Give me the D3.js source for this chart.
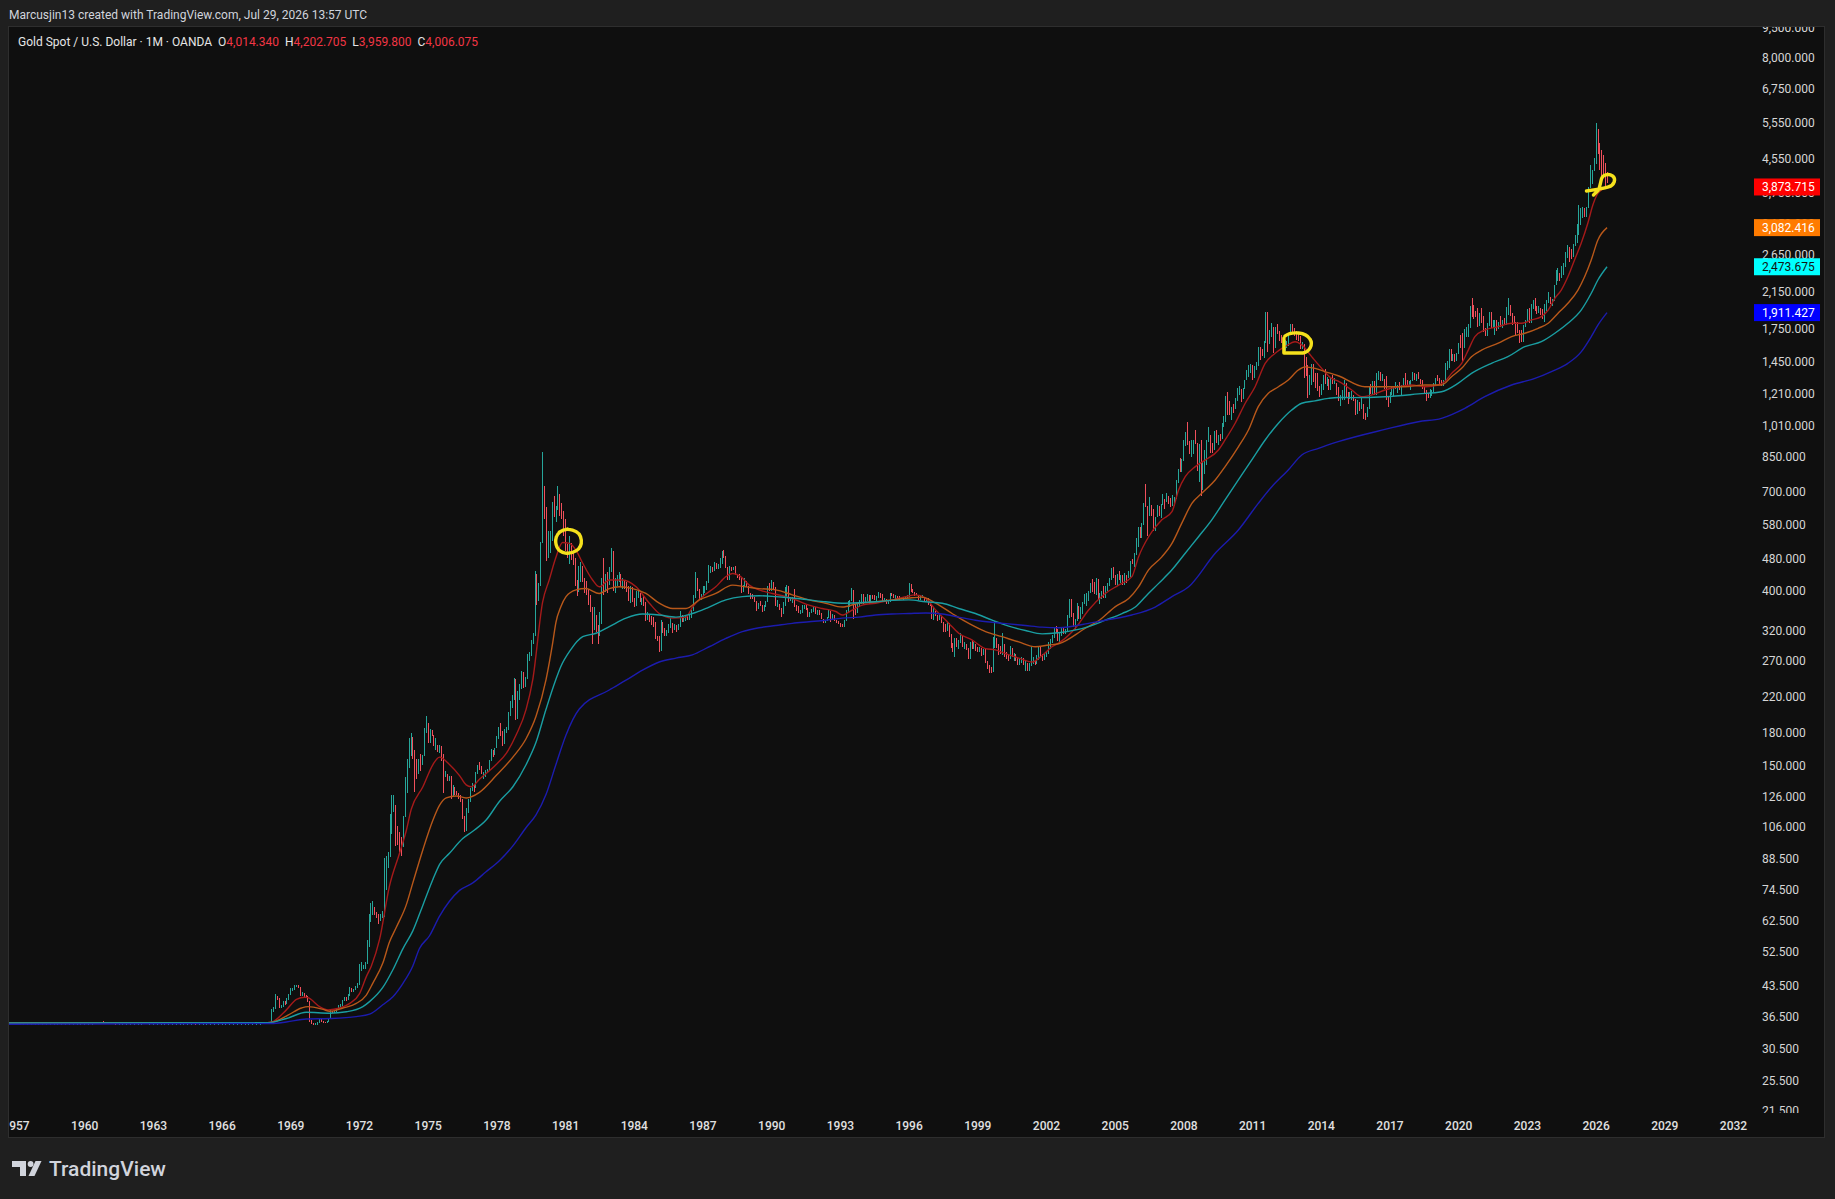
<!DOCTYPE html>
<html>
<head>
<meta charset="utf-8">
<script src="https://cdn.jsdelivr.net/npm/d3@7"></script>
<style>
  body { margin: 0; background: #1f1f1f; }
  svg { display: block; font-family: Roboto, "Liberation Sans", sans-serif; }
</style>
</head>
<body>
<svg id="chart" width="1835" height="1199"></svg>
<script>
// ---- data (monthly) ----

// 1956-1967 the market sat flat around $35, candles are just ticks
var flatStart = 1956;
var flatClose = [
  35.1,35.1,35.1,35.1,35.1,35.1,35.1,35.1,35.1,35.1,35.1,35.2,
  35.2,35.2,35.1,35.1,35.1,35.1,35.1,35.1,35.1,35.1,35.1,35.1,
  35.1,35.1,35.1,35.1,35.1,35.1,35.1,35.1,35.1,35.1,35.1,35.1,
  35.1,35.1,35.1,35.1,35.1,35.1,35.1,35.1,35.1,35.1,35.1,35.1,
  35.1,35.1,35.1,35.1,35.1,35.1,35.2,35.3,35.5,36.5,35.7,35.3,
  35.5,35.3,35.2,35.2,35.1,35.1,35.1,35.1,35.1,35.1,35.1,35.1,
  35.1,35.1,35.1,35.1,35.1,35.1,35.1,35.1,35.2,35.1,35.1,35.1,
  35.1,35.1,35.1,35.1,35.1,35.1,35.1,35.1,35.1,35.1,35.1,35.1,
  35.1,35.1,35.1,35.1,35.1,35.1,35.1,35.1,35.1,35.2,35.1,35.1,
  35.1,35.1,35.1,35.1,35.1,35.1,35.1,35.1,35.1,35.1,35.1,35.1,
  35.1,35.1,35.1,35.1,35.1,35.1,35.1,35.1,35.1,35.1,35.1,35.1,
  35.1,35.1,35.1,35.1,35.1,35.1,35.1,35.1,35.1,35.1,35.2,35.2
];

// from 1968 on: close / high / low per month, one block per era
var close1968 = [
  35.2,35.2,37.5,38.0,41.0,40.5,38.5,38.5,39.5,39.2,40.0,41.1,
  42.5,42.5,43.3,43.3,43.0,41.0,41.5,41.0,40.9,39.8,35.6,35.2,
  34.9,35.0,35.3,35.8,35.6,35.4,35.3,35.4,36.2,37.5,37.4,37.4,
  38.0,38.7,38.9,39.9,40.6,40.1,41.0,42.7,42.0,42.5,42.9,43.6,
  48.0,48.3,48.3,49.0,54.6,62.9,65.7,67.0,65.5,64.9,62.9,63.9,
  65.1,74.2,84.5,90.5,102.0,120.0,120.0,106.8,103.0,100.0,94.8,112.3,
  129.2,150.2,168.4,172.2,163.3,154.1,143.0,154.6,151.8,158.8,181.7,186.5,
  175.8,181.8,178.2,167.0,167.0,166.3,166.7,159.8,141.3,142.9,138.2,140.3,
  128.2,132.3,128.8,128.4,125.8,123.8,112.5,104.0,116.0,123.2,130.3,134.5,
  132.3,142.8,148.9,147.8,143.0,143.0,144.1,146.0,154.1,161.5,160.5,164.9,
  175.8,182.3,181.6,170.1,183.1,183.1,200.3,208.1,217.1,242.6,194.2,226.0,
  233.7,251.3,240.1,245.3,274.6,277.5,296.5,315.1,397.3,382.0,415.7,524.0
];
var high1968 = [
  35.3,35.3,38.0,38.5,41.5,41.0,40.5,39.0,39.8,39.8,40.5,41.5,
  42.8,42.9,43.6,43.7,43.5,43.0,42.0,41.6,41.2,41.0,39.8,35.8,
  35.3,35.2,35.5,36.0,36.0,35.7,35.5,35.6,36.3,37.8,37.7,37.6,
  38.3,38.9,39.1,40.0,40.8,40.8,41.4,43.0,42.8,42.7,43.3,44.0,
  49.0,49.5,48.9,49.6,56.0,65.0,69.0,70.0,67.5,65.8,64.8,64.9,
  66.0,89.0,90.0,92.0,114.0,127.0,127.0,120.0,105.0,100.5,100.0,113.0,
  140.0,155.0,175.0,179.5,176.0,163.0,155.0,155.0,160.0,159.0,185.0,197.5,
  190.0,184.0,183.0,178.0,175.0,168.0,168.0,166.0,153.0,145.0,143.0,140.8,
  141.0,134.0,133.0,130.0,128.5,127.0,123.0,112.0,118.0,124.0,132.0,136.0,
  135.0,144.0,150.0,153.0,149.0,144.0,146.0,146.5,154.5,164.0,163.0,165.5,
  177.0,185.5,190.0,181.0,183.5,186.0,202.0,215.0,222.0,245.0,243.0,228.0,
  237.0,255.0,253.0,246.0,280.0,284.0,303.0,316.0,447.0,440.0,417.0,525.0
];
var low1968 = [
  35.1,35.1,35.2,37.5,38.0,40.0,38.3,38.2,38.5,39.0,39.3,40.0,
  41.2,42.2,42.5,43.0,42.8,41.0,41.0,40.8,40.6,39.6,35.4,35.0,
  34.8,34.8,34.9,35.3,35.4,35.2,35.2,35.2,35.4,36.2,37.2,37.2,
  37.4,37.9,38.6,38.8,39.9,39.9,40.0,41.0,41.8,42.0,42.4,42.8,
  43.6,47.2,47.8,47.8,49.0,54.0,62.0,64.5,64.5,63.5,61.5,62.5,
  63.5,64.0,78.0,84.0,89.5,102.0,115.0,95.0,96.0,92.0,90.0,95.0,
  112.0,128.0,148.0,158.0,155.0,128.8,139.0,143.0,145.0,150.0,158.0,180.0,
  170.0,170.0,177.0,167.0,163.0,162.0,161.0,154.0,128.0,140.0,137.0,137.0,
  124.0,126.0,127.0,127.0,124.0,122.0,111.0,103.0,103.5,114.5,122.0,130.0,
  129.0,132.0,142.5,146.0,142.5,139.0,140.0,144.0,145.5,154.0,157.0,159.0,
  165.0,174.0,177.0,167.0,169.0,180.0,183.0,198.0,207.0,216.0,193.0,195.0,
  216.0,230.0,232.0,233.0,244.0,270.0,277.0,298.0,310.0,370.0,378.0,412.0
];

var close1980 = [
  653,637,494.5,518,535.5,653.5,614.3,631.3,666.8,629,619.8,589.8,
  506,489,514,483,480,422,407,426,429,428,414,400,
  384,362,320,350,325,315,342,411,397,423,414,448,
  481,408,414,429,437,416,422,414,405,382,405,382,
  370,395,395,381,384,373,342,348,343,334,329,309,
  306,287,326,321,317,318,327,334,325,325,324,327,
  350,338,344,345,343,345,357,384,424,402,384,391,
  405,406,420,451,451,448,463,451,460,466,492,484,
  458,426,457,449,455,437,436,431,397,412,420,410,
  394,387,383,377,362,373,368,359,366,375,409,401
];
var high1980 = [
  873,720,640,560,560,660,680,645,720,690,655,628,
  600,520,545,522,495,480,425,460,470,460,430,422,
  405,390,365,365,350,330,355,430,481,440,445,458,
  510,500,430,438,445,440,430,425,420,410,410,408,
  385,400,405,395,385,390,375,355,350,347,346,335,
  311,310,340,336,325,320,332,343,330,332,330,332,
  358,350,348,350,348,350,360,390,444,430,405,392,
  410,410,422,462,461,457,470,467,465,481,499,502,
  486,450,459,456,457,460,437,440,432,414,430,422,
  411,392,393,386,377,373,377,370,369,378,412,419
];
var low1980 = [
  560,600,474,480,495,530,604,590,630,610,600,545,
  500,480,465,475,462,412,389,397,420,420,395,390,
  370,355,297,320,318,297,310,332,390,400,395,420,
  445,400,395,410,420,408,405,405,398,378,374,375,
  365,368,385,375,370,368,337,340,336,330,326,305,
  302,284,285,315,310,311,315,325,315,320,318,320,
  328,335,335,338,339,340,343,357,385,400,383,380,
  388,396,402,418,443,445,447,451,451,455,464,480,
  455,425,430,447,450,436,431,425,395,397,412,408,
  392,382,382,375,357,361,367,356,358,366,375,400
];

var close1990 = [
  415,407,368,368,363,352,372,388,408,380,385,386,
  367,362,355,358,367,368,362,347,354,357,366,353,
  354,353,341,336,337,343,357,340,349,339,334,333,
  330,328,337,354,377,378,401,372,355,369,372,391,
  378,381,390,376,388,385,384,385,395,389,383,383,
  375,376,392,390,385,387,383,382,383,383,387,387,
  405,400,396,392,391,382,385,386,379,379,371,369,
  345,358,348,340,345,334,326,325,332,311,296,290,
  303,297,301,308,293,296,288,273,294,292,294,288,
  287,288,279,286,268,261,256,254,299,299,292,290
];
var high1990 = [
  424,420,408,380,372,362,375,409,413,412,386,387,
  403,369,367,360,370,370,370,364,356,362,366,366,
  359,359,354,342,339,346,361,358,352,346,340,337,
  334,332,340,359,378,380,406,398,372,372,379,393,
  392,387,392,385,390,391,391,389,397,396,393,384,
  381,379,394,396,392,390,389,388,386,386,388,390,
  417,415,403,398,395,391,388,390,387,384,384,373,
  368,364,357,349,349,348,336,331,336,333,314,298,
  307,306,303,315,311,300,297,290,300,302,300,297,
  292,292,290,288,290,269,263,260,308,338,306,296
];
var low1990 = [
  399,405,367,365,360,345,352,368,386,375,378,374,
  366,358,354,351,353,361,360,345,345,354,356,352,
  349,350,341,334,334,338,345,336,340,338,333,331,
  327,326,326,337,353,366,380,341,349,354,365,372,
  372,375,377,371,376,382,380,375,385,385,378,376,
  372,372,375,389,384,382,382,380,381,380,381,385,
  387,398,394,389,390,380,380,384,378,377,369,367,
  341,339,347,337,339,333,317,317,319,309,290,283,
  276,291,288,299,291,288,287,272,275,288,288,285,
  284,284,277,279,267,258,252,252,253,290,290,279
];

var close2000 = [
  283,293,277,276,273,288,277,278,274,264,270,274,
  266,267,258,263,266,270,266,274,293,279,275,278,
  282,297,302,308,326,318,304,312,324,317,318,347,
  368,347,336,339,364,346,355,375,385,386,398,416,
  400,397,427,387,393,395,391,407,415,428,452,437,
  422,434,428,435,417,436,429,433,473,470,495,513,
  568,556,582,654,643,614,632,624,599,604,646,632,
  650,665,661,677,657,650,665,672,742,789,783,834,
  923,971,916,865,886,925,912,833,880,718,815,882,
  927,942,916,883,978,927,955,954,1008,1040,1182,1097
];
var high2000 = [
  293,315,296,283,278,293,290,282,280,275,272,275,
  273,269,267,266,292,275,270,278,294,294,280,280,
  283,300,305,312,327,329,323,315,325,325,323,349,
  383,382,353,341,374,367,365,376,393,394,400,417,
  428,420,429,428,395,400,410,410,418,431,455,456,
  432,439,446,438,438,442,432,448,474,479,496,538,
  571,574,587,654,730,641,676,648,635,607,648,645,
  653,690,670,693,681,675,685,676,745,792,842,840,
  934,975,1032,931,936,934,988,920,912,932,824,882,
  935,1006,962,917,980,989,959,966,1025,1070,1195,1226
];
var low2000 = [
  280,279,276,272,269,272,275,270,269,263,263,267,
  263,255,255,255,262,265,263,265,271,277,270,271,
  276,281,289,298,306,315,301,300,311,314,314,317,
  344,345,326,320,338,341,341,352,371,367,377,396,
  398,393,391,382,371,382,385,385,400,410,425,431,
  414,412,424,419,414,414,418,429,432,465,456,490,
  516,539,538,580,642,543,609,608,560,560,604,608,
  603,649,635,658,651,640,643,643,670,732,781,780,
  832,905,906,862,848,864,911,786,737,681,704,773,
  812,922,866,866,882,920,908,931,939,1004,1034,1076
];

var close2010 = [
  1083,1118,1113,1180,1213,1244,1181,1247,1308,1359,1385,1421,
  1333,1410,1439,1556,1536,1500,1628,1826,1620,1713,1746,1564,
  1738,1709,1669,1664,1561,1604,1614,1692,1773,1717,1714,1676,
  1663,1579,1597,1473,1393,1234,1313,1396,1327,1323,1253,1202,
  1240,1326,1284,1291,1250,1327,1282,1286,1211,1172,1183,1199,
  1283,1212,1183,1184,1190,1171,1095,1134,1115,1142,1065,1061,
  1116,1238,1233,1293,1215,1322,1351,1309,1316,1277,1173,1151,
  1211,1249,1249,1268,1269,1242,1269,1322,1280,1271,1275,1303,
  1345,1318,1325,1315,1299,1253,1224,1201,1192,1215,1222,1282,
  1321,1313,1292,1284,1305,1409,1413,1520,1472,1513,1464,1517
];
var high2010 = [
  1161,1127,1144,1185,1249,1265,1244,1250,1310,1388,1424,1431,
  1424,1412,1446,1576,1578,1554,1632,1913,1921,1731,1803,1764,
  1763,1791,1720,1681,1670,1641,1631,1695,1790,1796,1755,1723,
  1696,1678,1617,1606,1487,1424,1348,1434,1434,1361,1361,1267,
  1280,1345,1392,1331,1315,1332,1345,1322,1289,1255,1206,1239,
  1307,1284,1224,1225,1232,1205,1175,1170,1157,1191,1142,1088,
  1126,1263,1283,1303,1303,1362,1375,1367,1352,1318,1338,1191,
  1220,1264,1263,1295,1270,1297,1270,1326,1358,1306,1299,1306,
  1366,1362,1356,1365,1318,1309,1265,1237,1214,1243,1237,1284,
  1326,1346,1324,1310,1306,1439,1453,1555,1557,1518,1516,1525
];
var low2010 = [
  1075,1045,1087,1115,1165,1201,1155,1177,1243,1308,1330,1361,
  1309,1327,1382,1419,1463,1496,1479,1613,1535,1601,1671,1523,
  1563,1692,1627,1614,1527,1540,1563,1588,1690,1703,1672,1635,
  1627,1555,1562,1321,1339,1180,1206,1271,1292,1251,1231,1187,
  1202,1240,1277,1268,1240,1240,1280,1281,1204,1161,1131,1170,
  1167,1192,1142,1178,1170,1162,1077,1080,1098,1111,1053,1046,
  1061,1109,1208,1207,1200,1200,1310,1301,1303,1241,1171,1123,
  1147,1200,1195,1245,1214,1236,1205,1267,1275,1261,1264,1237,
  1303,1307,1303,1313,1281,1246,1211,1160,1180,1182,1196,1221,
  1275,1302,1281,1266,1266,1301,1382,1400,1459,1459,1445,1454
];

var close2020 = [
  1589,1585,1577,1686,1730,1781,1975,1967,1886,1879,1776,1895,
  1848,1734,1708,1769,1907,1770,1814,1814,1743,1783,1775,1829,
  1797,1909,1937,1897,1837,1807,1766,1711,1660,1633,1768,1824,
  1928,1827,1969,1990,1963,1919,1965,1940,1849,1983,2036,2062,
  2039,2044,2230,2286,2327,2326,2447,2503,2634,2744,2643,2624,
  2798,2858,3124,3288,3289,3303,3290,3448,3858,3995,4240,4520,
  5150,4800,4500,4400,4250,4014.34,4006.075
];
var high2020 = [
  1611,1689,1704,1747,1765,1789,1983,2075,1992,1933,1965,1906,
  1959,1873,1755,1798,1913,1917,1834,1834,1834,1814,1877,1832,
  1853,1974,2070,1998,1910,1879,1814,1808,1735,1730,1786,1833,
  1949,1959,2009,2048,2079,1984,1987,1950,1953,2009,2052,2146,
  2089,2065,2236,2432,2450,2388,2484,2531,2685,2790,2761,2726,
  2817,2956,3149,3500,3435,3452,3439,3453,3871,4381,4250,4550,
  5550,5380,4950,4780,4640,4430,4202.705
];
var low2020 = [
  1517,1563,1451,1567,1670,1670,1757,1863,1848,1860,1764,1776,
  1802,1717,1677,1678,1770,1751,1751,1688,1721,1746,1758,1753,
  1781,1780,1890,1872,1787,1805,1681,1709,1615,1617,1616,1765,
  1823,1805,1804,1950,1932,1893,1903,1885,1847,1810,1931,2016,
  2002,1985,2039,2229,2278,2286,2318,2364,2472,2604,2536,2583,
  2614,2773,2832,2957,3120,3247,3268,3268,3436,3850,3930,4270,
  4400,4650,4250,3970,4100,3900,3959.8
];

// moving averages as [year, price]
var redMA = [
  [1956,35.2],[1968.0,35.25],[1968.2,35.4],[1968.83,37.9],[1969.27,40.2],[1969.63,40.7],[1969.77,40.6],
  [1970.28,38.6],[1970.65,37.9],[1971.16,38.3],[1971.6,39.3],[1972.03,41.6],[1972.32,45.7],[1972.54,48.5],
  [1972.9,56.4],[1973.33,76],[1973.77,91.4],[1974.06,103.6],[1974.28,117],[1974.79,132.9],[1975.23,150.6],
  [1975.52,157.0],[1975.95,150.6],[1976.39,141.5],[1976.68,134.3],[1976.9,132.9],[1977.26,138.6],[1977.99,150.6],
  [1978.43,160.3],[1978.86,177.8],[1979.3,205.7],[1979.59,243.2],[1980.02,376],[1980.31,426],[1980.6,483],
  [1980.89,524.6],[1981.19,522],[1981.5,500],[1981.77,467],[1982.2,425],[1982.49,409],[1982.93,425],
  [1983.51,425],[1984.1,409],[1984.68,373],[1985.11,352],[1985.69,343],[1986.28,345],[1986.56,365],
  [1987.0,387],[1987.58,409],[1988.02,433],[1988.31,441],[1988.67,433],[1989.04,413],[1989.47,402],
  [1990.05,394],[1990.64,387],[1991.07,380],[1991.65,369],[1992.23,362],[1992.82,356],[1993.1,349],
  [1993.54,359],[1993.98,369],[1994.56,373],[1995.29,380],[1995.87,387],[1996.31,391],[1996.74,384],
  [1997.18,359],[1997.76,333],[1998.19,315],[1998.78,303],[1999.36,289],[1999.79,287],[2000.23,281],
  [2000.81,274],[2001.39,268],[2001.83,278],[2002.26,292],[2002.55,298],[2003.28,324],[2003.86,359],
  [2004.59,394],[2005.17,413],[2005.75,433],[2006.04,484],[2006.48,542],[2007.06,596],[2007.5,624],
  [2007.79,705],[2008.08,760],[2008.52,804],[2008.95,834],[2009.53,883],[2009.82,934],[2010.26,1026],
  [2010.7,1148],[2011.13,1260],[2011.57,1437],[2012.01,1521],[2012.44,1578],[2012.88,1623],[2013.17,1594],
  [2013.6,1492],[2014.04,1397],[2014.47,1320],[2014.76,1300],[2015.35,1237],[2015.78,1191],[2016.36,1210],
  [2016.8,1237],[2017.38,1260],[2017.96,1272],[2018.55,1260],[2019.13,1272],[2019.42,1297],[2019.71,1358],
  [2020.15,1437],[2020.44,1548],[2020.73,1670],[2021.16,1733],[2021.75,1766],[2022.33,1800],[2022.76,1800],
  [2023.2,1834],[2023.63,1869],[2023.93,1939],[2024.22,2071],[2024.5,2170],[2024.79,2338],[2025.08,2570],
  [2025.37,2822],[2025.66,3158],[2025.88,3500],[2026.1,3738],[2026.5,3873.715]
];
var orangeMA = [
  [1956,35.2],[1968.0,35.25],[1968.25,35.4],[1968.9,36.8],[1969.49,38.3],[1969.77,38.6],[1970.43,38.0],
  [1970.72,37.6],[1971.3,38.3],[1971.88,39.3],[1972.32,41.2],[1972.6,44.0],[1973.04,49.3],[1973.33,55.5],
  [1973.63,60.3],[1974.06,68.3],[1974.35,77.4],[1974.79,93.3],[1975.23,110.2],[1975.52,119.8],[1975.81,124.8],
  [1976.24,126.2],[1976.68,124.8],[1977.26,128.8],[1977.99,141.5],[1978.72,157],[1979.3,174.3],[1979.73,197.5],
  [1980.17,243.2],[1980.46,299],[1980.6,335],[1980.81,365],[1981.04,387],[1981.48,402],[1981.91,405],
  [1982.49,394],[1982.93,405],[1983.37,409],[1983.95,405],[1984.53,394],[1985.11,373],[1985.69,362],
  [1986.28,362],[1986.86,380],[1987.58,394],[1988.31,413],[1988.89,409],[1989.47,405],[1990.2,402],
  [1990.92,391],[1991.65,380],[1992.38,373],[1993.1,365],[1993.83,373],[1994.56,376],[1995.29,380],
  [1996.01,384],[1996.59,386],[1997.18,373],[1997.9,352],[1998.63,333],[1999.36,318],[2000.08,309],
  [2000.81,300],[2001.54,292],[2002.12,295],[2002.55,297],[2003.72,324],[2004.33,339],[2005.03,366],
  [2005.61,383],[2006.04,409],[2006.48,450],[2007.06,484],[2007.5,522],[2007.93,585],[2008.37,654],
  [2008.8,692],[2009.39,746],[2009.82,804],[2010.4,899],[2010.84,988],[2011.27,1127],[2011.71,1214],
  [2012.15,1260],[2012.58,1309],[2013.02,1384],[2013.31,1409],[2013.75,1397],[2014.18,1372],[2014.76,1340],
  [2015.93,1260],[2016.8,1260],[2017.67,1260],[2018.55,1272],[2019.27,1272],[2019.71,1333],[2020.15,1397],
  [2020.58,1492],[2021.02,1548],[2021.75,1609],[2022.33,1670],[2022.91,1702],[2023.49,1750],[2023.93,1800],
  [2024.36,1904],[2024.79,2014],[2025.23,2170],[2025.52,2338],[2025.81,2570],[2026.1,2876],[2026.5,3082.416]
];
var cyanMA = [
  [1956,35.2],[1968.0,35.25],[1968.83,36.1],[1969.7,37.4],[1970.72,37.2],[1971.45,37.5],[1972.17,38.6],
  [1972.46,39.7],[1973.04,43],[1973.48,47.5],[1973.92,53.5],[1974.35,59.1],[1974.79,68.3],[1975.23,79.0],
  [1975.52,85.9],[1975.95,91.4],[1976.53,99.3],[1976.97,103.5],[1977.55,110.2],[1978.13,122.3],[1978.72,132.9],
  [1979.3,150.6],[1979.73,170.6],[1980.17,205.7],[1980.6,243.2],[1980.81,261],[1981.24,287],[1981.77,309],
  [1982.35,315],[1982.93,327],[1983.66,343],[1984.38,351],[1985.11,349],[1985.84,345],[1986.56,352],
  [1987.29,365],[1988.02,380],[1988.74,387],[1989.47,389],[1990.2,387],[1990.92,384],[1991.65,380],
  [1992.38,376],[1993.1,373],[1993.83,374],[1994.56,376],[1995.29,379],[1996.01,380],[1996.74,376],
  [1997.47,373],[1998.19,362],[1998.92,352],[1999.65,339],[2000.37,328],[2001.1,320],[2001.83,314],
  [2002.55,316],[2003.86,327],[2004.59,339],[2005.32,352],[2005.9,365],[2006.34,387],[2006.92,417],
  [2007.5,450],[2008.08,494],[2008.66,542],[2009.24,596],[2009.82,667],[2010.4,746],[2010.98,834],
  [2011.57,934],[2012.15,1026],[2012.73,1105],[2013.17,1148],[2013.75,1164],[2014.33,1180],[2014.76,1186],
  [2015.35,1185],[2016.8,1191],[2018.26,1210],[2019.27,1225],[2019.99,1284],[2020.58,1358],[2021.45,1437],
  [2022.17,1492],[2022.91,1578],[2023.63,1623],[2024.22,1702],[2024.79,1800],[2025.37,1939],[2025.81,2131],
  [2026.1,2296],[2026.5,2473.675]
];
var blueMA = [
  [1956,34.95],[1968.18,35.1],[1968.83,35.4],[1969.7,36.0],[1970.72,36.1],[1971.88,36.5],[1972.46,37.0],
  [1973.04,39.0],[1973.48,40.8],[1973.92,44.0],[1974.35,48.5],[1974.64,53.5],[1975.08,57.5],[1975.52,64.2],
  [1975.95,69.8],[1976.39,74.2],[1976.97,77.4],[1977.55,82.4],[1978.13,87.7],[1978.72,95.3],[1979.3,105.7],
  [1979.73,113.4],[1980.17,127.4],[1980.6,150.6],[1981.04,177.8],[1981.62,205.7],[1982.93,229],[1983.66,242],
  [1984.38,256],[1985.11,268],[1985.84,274],[1986.56,279],[1987.29,292],[1988.02,306],[1988.74,318],
  [1989.47,325],[1990.2,329],[1990.92,333],[1991.65,336],[1992.38,339],[1993.1,343],[1993.83,345],
  [1994.56,349],[1995.29,351],[1996.01,352],[1996.74,353],[1997.47,351],[1998.19,345],[1998.92,339],
  [1999.65,335],[2000.37,332],[2001.1,329],[2001.83,326],[2002.55,325],[2003.86,333],[2004.59,339],
  [2005.75,349],[2006.77,365],[2007.5,387],[2008.23,409],[2009.39,494],[2010.4,563],[2011.27,654],
  [2011.86,718],[2012.58,789],[2013.17,858],[2013.9,891],[2014.76,925],[2016.8,991],[2018.26,1035],
  [2019.27,1055],[2020.29,1116],[2021.16,1191],[2022.33,1272],[2023.35,1320],[2024.07,1372],[2024.79,1437],
  [2025.37,1533],[2025.81,1670],[2026.1,1782],[2026.5,1911.427]
];
var maLast = [3873.715, 3082.416, 2473.675, 1911.427];

// axis labels
var priceTicks = [9500, 8000, 6750, 5550, 4550, 3750, 3150, 2650, 2150, 1750, 1450, 1210, 1010, 850, 700,
  580, 480, 400, 320, 270, 220, 180, 150, 126, 106, 88.5, 74.5, 62.5, 52.5, 43.5, 36.5, 30.5, 25.5, 21.5];
var yearTicks = [1957, 1960, 1963, 1966, 1969, 1972, 1975, 1978, 1981, 1984, 1987, 1990, 1993, 1996, 1999,
  2002, 2005, 2008, 2011, 2014, 2017, 2020, 2023, 2026, 2029, 2032];

// hand drawn marks: where they sit on the chart (year, price)
var noteYears = [1981.14, 2013.0, 2026.3];
var notePrices = [529, 1602, 3918];

// ---- build candles ----
var candles = [];
var prev = flatClose[0];
flatClose.forEach(function(c, i) {
  candles.push({ t: flatStart + i / 12, o: prev, h: Math.max(prev, c), l: Math.min(prev, c), c: c, flat: true });
  prev = c;
});
var blocks = [[1968, close1968, high1968, low1968], [1980, close1980, high1980, low1980],
  [1990, close1990, high1990, low1990], [2000, close2000, high2000, low2000],
  [2010, close2010, high2010, low2010], [2020, close2020, high2020, low2020]];
blocks.forEach(function(b) {
  b[1].forEach(function(c, i) {
    var o = prev;
    candles.push({ t: b[0] + i / 12, o: o, h: Math.max(b[2][i], o, c), l: Math.min(b[3][i], o, c), c: c });
    prev = c;
  });
});

// ---- chart ----
var svg = d3.select('#chart');
var fmt = d3.format(',.3f');

var x = d3.scaleLinear().domain([1960, 2032]).range([84.2, 1733]);
var y = d3.scaleLog().domain([21.5, 8000]).range([1110.7, 58]);

svg.append('rect').attr('width', 1835).attr('height', 1199).attr('fill', '#1f1f1f');
svg.append('rect').attr('x', 8.5).attr('y', 26.5).attr('width', 1816).attr('height', 1111)
  .attr('fill', '#0f0f0f').attr('stroke', '#2e2e2e');

var defs = svg.append('defs');
defs.append('clipPath').attr('id', 'plot').append('rect')
  .attr('x', 9).attr('y', 27).attr('width', 1815).attr('height', 1086);
defs.append('clipPath').attr('id', 'timeaxis').append('rect')
  .attr('x', 9).attr('y', 1113).attr('width', 1815).attr('height', 24);

var plot = svg.append('g').attr('clip-path', 'url(#plot)');

// candles - at this zoom they are 1px bars high to low
plot.append('g').attr('shape-rendering', 'crispEdges')
  .selectAll('rect').data(candles).join('rect')
  .attr('x', function(d) { return Math.round(x(d.t)); })
  .attr('width', 1)
  .attr('y', function(d) { return d.flat ? Math.round(y(d.c)) : y(d.h); })
  .attr('height', function(d) { return d.flat ? 1 : Math.max(1, y(d.l) - y(d.h)); })
  .attr('fill', function(d) { return d.c >= d.o ? '#26a69a' : '#f0505c'; })
  .attr('opacity', function(d, i) { return d.flat && i % 2 ? 0 : 1; });

// moving averages
var line = d3.line().x(function(d) { return x(d[0]); }).y(function(d) { return y(d[1]); })
  .curve(d3.curveMonotoneX);
var maLines = [[redMA, '#a51a1a'], [orangeMA, '#b8581a'], [cyanMA, '#1a9ea2'], [blueMA, '#1c1cae']];
maLines.forEach(function(m) {
  plot.append('path').datum(m[0]).attr('d', line)
    .attr('fill', 'none').attr('stroke', m[1]).attr('stroke-width', 1.4);
});

// yellow hand drawn marks
var noteShapes = [
  'M -9,-9 C -2,-14 12,-12 13,-1 C 14,9 4,13 -3,12 C -11,11 -14,3 -12,-4 C -11,-8 -6,-11 -1,-12',
  'M -13,-8 C -6,-13 8,-12 12,-5 C 16,1 11,8 5,9 L -14,9 L -14,-6',
  'M -16,6 C -8,5 0,4 6,2 C 12,0 14,-6 10,-9 C 6,-12 0,-10 -1,-6 C -2,-2 -3,3 -4,5 L -9,10'
];
noteShapes.forEach(function(p, i) {
  plot.append('path').attr('d', p)
    .attr('transform', 'translate(' + x(noteYears[i]) + ',' + y(notePrices[i]) + ')')
    .attr('fill', 'none').attr('stroke', '#f5e11c').attr('stroke-width', 3.4)
    .attr('stroke-linecap', 'round').attr('stroke-linejoin', 'round');
});

// price scale (labels under the badges get covered, as on the original)
var yAxis = d3.axisRight(y).tickValues(priceTicks).tickFormat(fmt).tickSize(0).tickPadding(0);
plot.append('g').attr('transform', 'translate(1762,0)').call(yAxis)
  .call(function(g) { g.select('.domain').remove(); })
  .attr('font-family', 'Roboto, "Liberation Sans", sans-serif').attr('font-size', 12)
  .selectAll('text').attr('fill', '#d6d6d6');

// last value badges of the averages
var badgeFill = ['#ff0000', '#ff7b00', '#00ffff', '#0000ff'];
var badgeText = ['#ffffff', '#ffffff', '#131313', '#ffffff'];
maLast.forEach(function(v, i) {
  var cy = y(v);
  svg.append('rect').attr('x', 1754).attr('y', cy - 8.5).attr('width', 66).attr('height', 17)
    .attr('fill', badgeFill[i]);
  svg.append('text').attr('x', 1762).attr('y', cy + 4.3).attr('font-size', 12)
    .attr('fill', badgeText[i]).text(fmt(v));
});

// time scale
var xAxis = d3.axisBottom(x).tickValues(yearTicks).tickFormat(d3.format('d')).tickSize(0).tickPadding(0);
svg.append('g').attr('clip-path', 'url(#timeaxis)').append('g')
  .attr('transform', 'translate(0,1121)').call(xAxis)
  .call(function(g) { g.select('.domain').remove(); })
  .attr('font-family', 'Roboto, "Liberation Sans", sans-serif').attr('font-size', 12)
  .attr('font-weight', 500)
  .selectAll('text').attr('fill', '#e0e0e0');

// header + legend
svg.append('text').attr('x', 9).attr('y', 18.5).attr('font-size', 12).attr('fill', '#d1d4dc')
  .text('Marcusjin13 created with TradingView.com, Jul 29, 2026 13:57 UTC');

var last = candles[candles.length - 1];
var legend = svg.append('text').attr('x', 18).attr('y', 46).attr('font-size', 12).attr('fill', '#e6e6e6');
legend.append('tspan').text('Gold Spot / U.S. Dollar \u00b7 1M \u00b7 OANDA');
[['O', last.o], ['H', last.h], ['L', last.l], ['C', last.c]].forEach(function(p) {
  legend.append('tspan').attr('dx', 6).text(p[0]);
  legend.append('tspan').attr('fill', '#f23645').text(fmt(p[1]));
});

// TradingView logo
var logo = svg.append('g').attr('transform', 'translate(12,1161)').attr('fill', '#d1d4dc');
logo.append('path').attr('d', 'M0,0 H14 V15 H8 V6 H0 Z');
logo.append('circle').attr('cx', 18.6).attr('cy', 3).attr('r', 2.9);
logo.append('path').attr('d', 'M23.5,0 H29.5 L22.5,15 H16.5 Z');
svg.append('text').attr('x', 49).attr('y', 1176).attr('font-size', 21).attr('font-weight', 500)
  .attr('fill', '#d1d4dc').text('TradingView');
</script>
</body>
</html>
